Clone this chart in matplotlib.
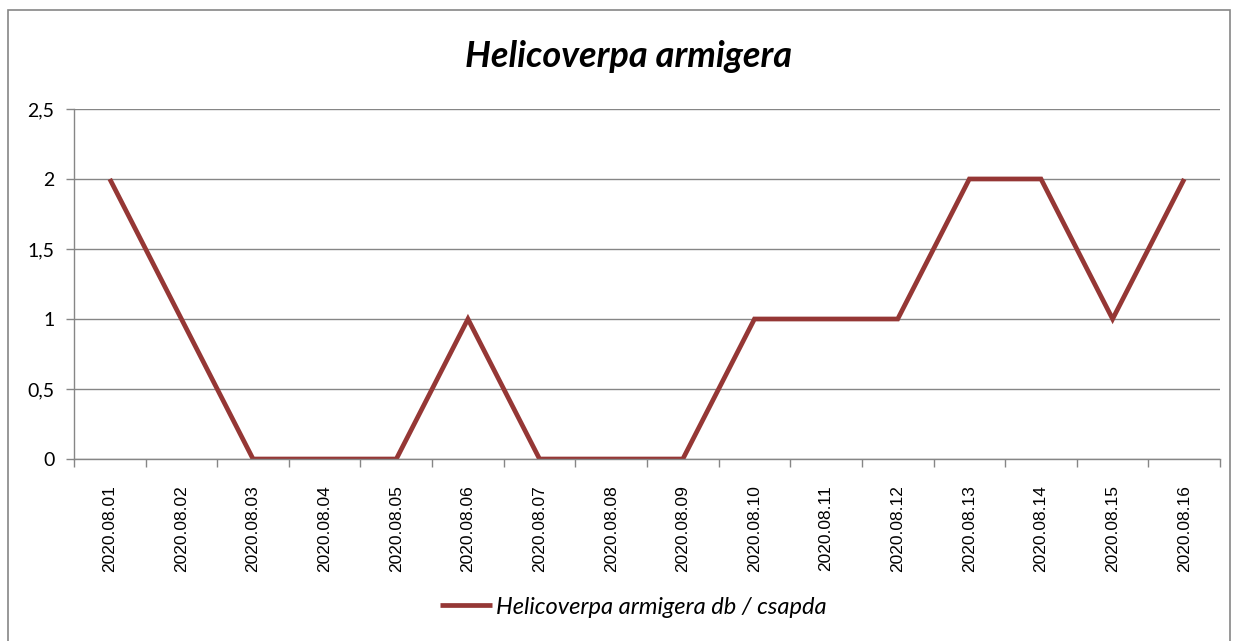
import numpy as np
import matplotlib.pyplot as plt
from matplotlib.patches import Rectangle
from matplotlib.ticker import FuncFormatter

dates = ["2020.08.01", "2020.08.02", "2020.08.03", "2020.08.04", "2020.08.05",
         "2020.08.06", "2020.08.07", "2020.08.08", "2020.08.09", "2020.08.10",
         "2020.08.11", "2020.08.12", "2020.08.13", "2020.08.14", "2020.08.15",
         "2020.08.16"]
counts = [2, 1, 0, 0, 0, 1, 0, 0, 0, 1, 1, 1, 2, 2, 1, 2]
series_name = "Helicoverpa armigera db / csapda"
title = "Helicoverpa armigera"

line_color = "#953735"
grid_color = "#868686"

plt.rcParams["font.family"] = ["Lato", "DejaVu Sans"]

fig = plt.figure(figsize=(12.37, 6.41), dpi=100)
ax = fig.add_axes([0.0598, 0.2839, 0.9265, 0.5461])

# outer chart border
fig.patches.append(Rectangle((8 / 1237, -0.05), (1230 - 8) / 1237, 1.05 - 10 / 641,
                             transform=fig.transFigure, fill=False,
                             edgecolor=grid_color, linewidth=1.2))

x = np.arange(len(dates))
ax.plot(x, counts, color=line_color, linewidth=3.4, label=series_name,
        solid_joinstyle="miter", solid_capstyle="butt")

ax.set_xlim(-0.5, len(dates) - 0.5)
ax.set_ylim(0, 2.5)
ax.set_yticks(np.arange(0, 2.51, 0.5))
ax.yaxis.set_major_formatter(FuncFormatter(lambda v, p: f"{v:g}".replace(".", ",")))
ax.grid(axis="y", color=grid_color, linewidth=1)
ax.set_axisbelow(True)

ax.set_xticks(x)
ax.set_xticklabels(dates, rotation=90, fontsize=12.5, fontfamily="Liberation Sans")
ax.set_xticks(np.arange(-0.5, len(dates)), minor=True)
ax.tick_params(axis="x", which="major", length=0, pad=19)
ax.tick_params(axis="x", which="minor", length=6, color=grid_color, width=1)
ax.tick_params(axis="y", length=6, color=grid_color, width=1, labelsize=14, pad=8)

for s in ["top", "right"]:
    ax.spines[s].set_visible(False)
for s in ["left", "bottom"]:
    ax.spines[s].set_color(grid_color)
    ax.spines[s].set_linewidth(1)

fig.text(0.508, 0.912, title, ha="center", va="center", fontsize=26,
         fontweight="bold", fontstyle="italic")

fig.legend(loc="center", bbox_to_anchor=(0.512, 0.053), frameon=False,
           prop={"style": "italic", "size": 17},
           handlelength=2.2, handletextpad=0.2)

fig.savefig("out.png", dpi=100)
